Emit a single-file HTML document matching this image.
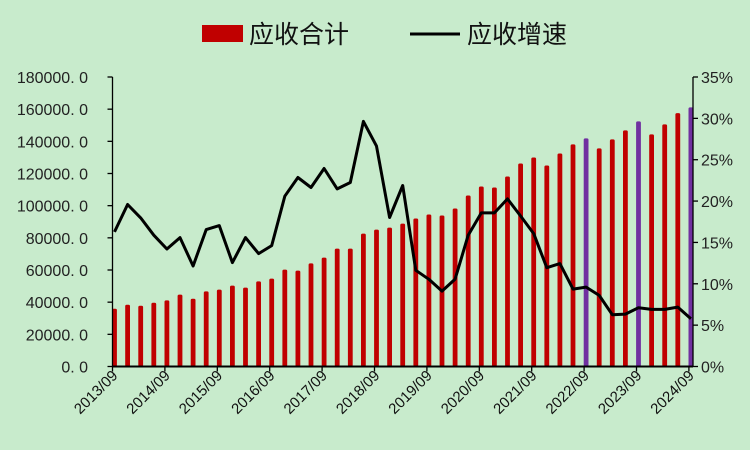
<!DOCTYPE html>
<html><head><meta charset="utf-8"><style>
body{margin:0;background:#c8ebcc;}
svg{display:block;font-family:"Liberation Sans","Noto Sans CJK SC",sans-serif;}
</style></head><body>
<svg id="chart" width="750" height="450" viewBox="0 0 750 450">
<rect width="750" height="450" fill="#c8ebcc"/>
<g>
<rect x="202" y="25" width="41" height="17" fill="#c00000"/>
<text x="249" y="43" font-size="25" fill="#111">应收合计</text>
<line x1="410" y1="34" x2="460" y2="34" stroke="#000" stroke-width="3"/>
<text x="467" y="43" font-size="25" fill="#111">应收增速</text>
</g>
<g id="plot"></g>
</svg>
<script>
const categories=[];
for(let y=2013;y<=2024;y++){for(const m of ['12','03','06','09']){}}
const quarterLabels=["2013/09","2013/12","2014/03","2014/06","2014/09","2014/12","2015/03","2015/06","2015/09","2015/12","2016/03","2016/06","2016/09","2016/12","2017/03","2017/06","2017/09","2017/12","2018/03","2018/06","2018/09","2018/12","2019/03","2019/06","2019/09","2019/12","2020/03","2020/06","2020/09","2020/12","2021/03","2021/06","2021/09","2021/12","2022/03","2022/06","2022/09","2022/12","2023/03","2023/06","2023/09","2023/12","2024/03","2024/06","2024/09"];
const receivables=[35940,38430,37800,39670,41100,44660,42160,46710,47770,50260,49010,52940,54620,60220,59600,64150,67700,73300,73300,82640,85140,86380,88870,91990,94480,93860,98220,106310,111920,111300,118150,126240,129980,125000,132470,138070,141810,135590,141190,146790,152400,144300,150530,157570,161120];
const growth=[16.27,19.58,17.96,15.87,14.21,15.58,12.15,16.55,17.04,12.56,15.58,13.65,14.62,20.59,22.85,21.64,23.94,21.47,22.25,29.63,26.64,18.01,21.88,11.63,10.54,9.12,10.57,15.87,18.57,18.57,20.26,18.2,16.07,11.95,12.44,9.36,9.6,8.6,6.26,6.33,7.11,6.9,6.9,7.18,5.78];
const leftTicks=["0. 0","20000. 0","40000. 0","60000. 0","80000. 0","100000. 0","120000. 0","140000. 0","160000. 0","180000. 0"];
const rightTicks=["0%","5%","10%","15%","20%","25%","30%","35%"];
const xLabels=["2013/09","2014/09","2015/09","2016/09","2017/09","2018/09","2019/09","2020/09","2021/09","2022/09","2023/09","2024/09"];

const NS="http://www.w3.org/2000/svg";
const plot=document.getElementById('plot');
const X0=112.5,X1=693,Y0=366.5,Y1=77;
const step=(690.9-114.5)/(receivables.length-1);
const xOf=i=>114.5+i*step;
const yL=v=>Y0-v/180000*(Y0-Y1);
const yR=p=>Y0-p/35*(Y0-Y1);
function mk(tag,attrs){const e=document.createElementNS(NS,tag);for(const k in attrs)e.setAttribute(k,attrs[k]);plot.appendChild(e);return e;}

receivables.forEach((v,i)=>{
  const purple=quarterLabels[i].endsWith('/09')&&i>=36;
  const r=mk('rect',{x:xOf(i)-2.4,y:yL(v),width:4.8,height:Y0-yL(v),fill:purple?'#7030a0':'#c00000',rx:1.5});
  
  
});
const pts=growth.map((g,i)=>xOf(i).toFixed(1)+','+yR(g).toFixed(1)).join(' ');
const line=mk('polyline',{points:pts,fill:'none',stroke:'#000','stroke-width':3,'stroke-linejoin':'round'});



const la=mk('line',{x1:X0,y1:Y1,x2:X0,y2:Y0,stroke:'#000','stroke-width':1.3});


const ra=mk('line',{x1:X1,y1:Y1,x2:X1,y2:Y0,stroke:'#000','stroke-width':1.3});


const xa=mk('line',{x1:X0,y1:Y0,x2:X1,y2:Y0,stroke:'#000','stroke-width':2});



leftTicks.forEach((t,i)=>{
  const y=yL(i*20000);
  mk('line',{x1:X0-5,y1:y,x2:X0,y2:y,stroke:'#000','stroke-width':1.3});
  const tx=mk('text',{x:88,y:y+6,'font-size':16,'text-anchor':'end',fill:'#222'});
  tx.textContent=t;
  
  
});
rightTicks.forEach((t,i)=>{
  const y=yR(i*5);
  mk('line',{x1:X1,y1:y,x2:X1+5,y2:y,stroke:'#000','stroke-width':1.3});
  const tx=mk('text',{x:701,y:y+6,'font-size':16,fill:'#222'});
  tx.textContent=t;
  
  
});
xLabels.forEach((t,k)=>{
  const x=X0+k*4*step;
  mk('line',{x1:x,y1:Y0,x2:x,y2:Y0+5,stroke:'#000','stroke-width':1.3});
  const tx=mk('text',{x:x+6,y:Y0+10,'font-size':15,'text-anchor':'end',fill:'#111',transform:`rotate(-45 ${x+6} ${Y0+10})`});
  tx.textContent=t;
  
  
});
</script>
</body></html>
